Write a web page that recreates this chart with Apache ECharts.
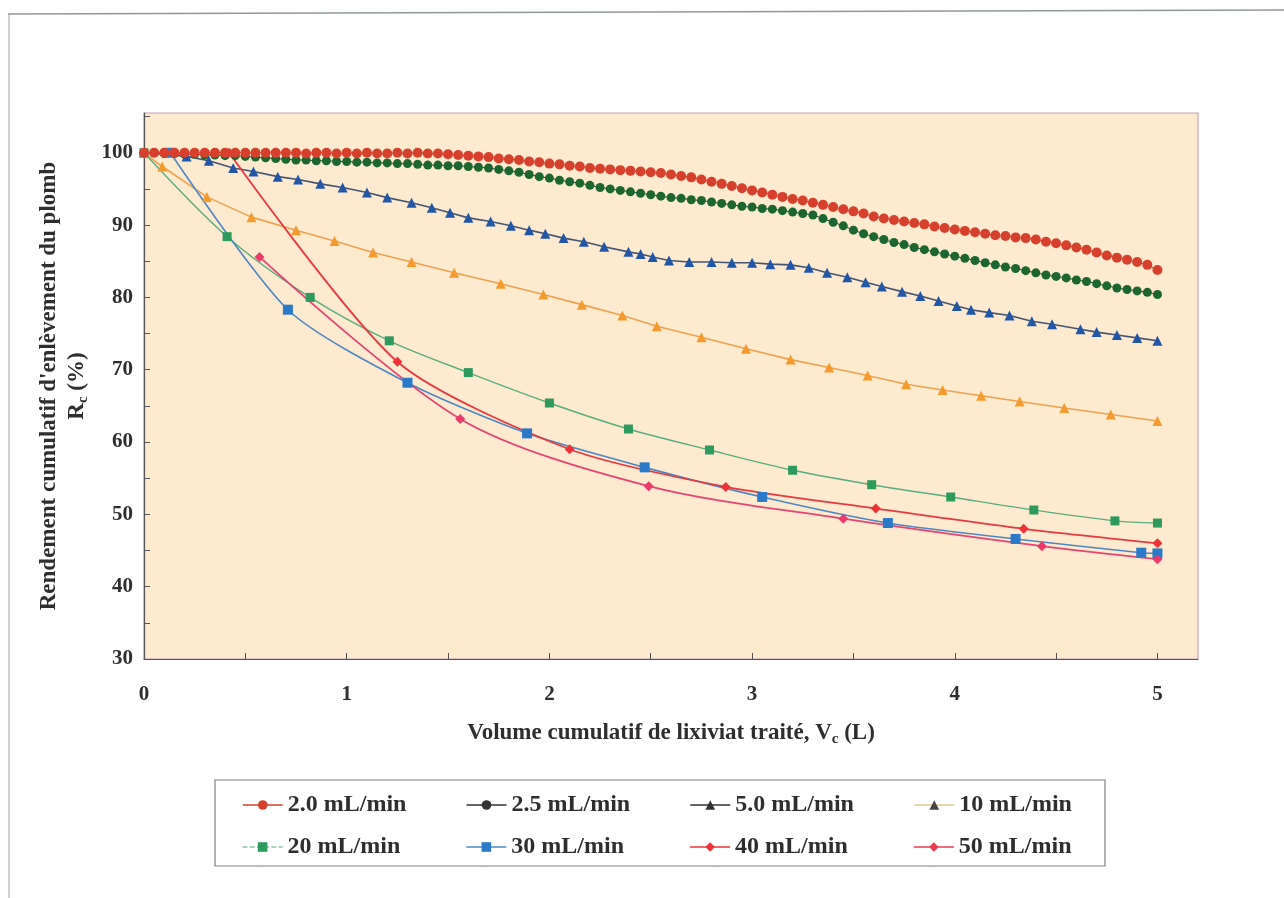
<!DOCTYPE html>
<html>
<head>
<meta charset="utf-8">
<script src="https://cdn.jsdelivr.net/npm/echarts@6/dist/echarts.min.js"></script>
<style>
  html, body { margin: 0; padding: 0; background: #ffffff; }
  #chart { width: 1284px; height: 898px; }
</style>
</head>
<body>
<div id="chart"></div>
<script>
// Cumulative lead removal yield versus cumulative treated leachate volume

// Volume grid (L) for the two densely sampled runs (2.0 and 2.5 mL/min)
const volDense = [
  0, 0.05, 0.1, 0.15, 0.2, 0.25, 0.3, 0.35, 0.4, 0.45,
  0.5, 0.55, 0.6, 0.65, 0.7, 0.75, 0.8, 0.85, 0.9, 0.95,
  1.0, 1.05, 1.1, 1.15, 1.2, 1.25, 1.3, 1.35, 1.4, 1.45,
  1.5, 1.55, 1.6, 1.65, 1.7, 1.75, 1.8, 1.85, 1.9, 1.95,
  2.0, 2.05, 2.1, 2.15, 2.2, 2.25, 2.3, 2.35, 2.4, 2.45,
  2.5, 2.55, 2.6, 2.65, 2.7, 2.75, 2.8, 2.85, 2.9, 2.95,
  3.0, 3.05, 3.1, 3.15, 3.2, 3.25, 3.3, 3.35, 3.4, 3.45,
  3.5, 3.55, 3.6, 3.65, 3.7, 3.75, 3.8, 3.85, 3.9, 3.95,
  4.0, 4.05, 4.1, 4.15, 4.2, 4.25, 4.3, 4.35, 4.4, 4.45,
  4.5, 4.55, 4.6, 4.65, 4.7, 4.75, 4.8, 4.85, 4.9, 4.95,
  5.0
];

// 2.0 mL/min
const rc_2_0 = [
  100, 100, 100, 100, 100, 100, 100, 100, 100, 100,
  100, 100, 100, 100, 100, 100, 99.9, 100, 100, 99.9,
  100, 99.9, 100, 99.9, 99.9, 100, 99.9, 100, 99.9, 99.9,
  99.8, 99.7, 99.6, 99.5, 99.4, 99.2, 99.1, 99.0, 98.8, 98.7,
  98.5, 98.4, 98.2, 98.1, 97.9, 97.8, 97.7, 97.6, 97.5, 97.4,
  97.3, 97.2, 97.0, 96.8, 96.6, 96.3, 96.0, 95.7, 95.4, 95.1,
  94.8, 94.5, 94.2, 93.9, 93.6, 93.4, 93.1, 92.8, 92.5, 92.2,
  91.9, 91.6, 91.2, 90.9, 90.7, 90.5, 90.3, 90.1, 89.8, 89.6,
  89.4, 89.2, 89.0, 88.8, 88.6, 88.5, 88.3, 88.2, 88.0, 87.7,
  87.5, 87.2, 86.9, 86.6, 86.2, 85.8, 85.5, 85.2, 84.9, 84.5,
  83.8
];

// 2.5 mL/min
const rc_2_5 = [
  100, 100, 99.9, 99.9, 99.8, 99.8, 99.7, 99.7, 99.6, 99.6,
  99.5, 99.4, 99.3, 99.2, 99.1, 99.0, 99.0, 98.9, 98.9, 98.8,
  98.8, 98.7, 98.7, 98.6, 98.6, 98.5, 98.5, 98.4, 98.3, 98.3,
  98.2, 98.2, 98.1, 98.0, 97.9, 97.7, 97.5, 97.3, 97.0, 96.7,
  96.5, 96.2, 96.0, 95.8, 95.5, 95.2, 95.0, 94.8, 94.6, 94.4,
  94.2, 94.0, 93.8, 93.7, 93.5, 93.4, 93.2, 93.0, 92.8, 92.6,
  92.5, 92.3, 92.2, 92.0, 91.8, 91.6, 91.4, 90.9, 90.4, 89.9,
  89.3, 88.8, 88.4, 88.0, 87.6, 87.3, 86.9, 86.6, 86.3, 86.0,
  85.7, 85.4, 85.1, 84.8, 84.5, 84.2, 84.0, 83.7, 83.4, 83.1,
  82.9, 82.7, 82.4, 82.2, 81.9, 81.6, 81.3, 81.1, 80.9, 80.7,
  80.4
];

// 5.0 mL/min
const vol_5_0 = [0, 0.21, 0.32, 0.44, 0.54, 0.66, 0.76, 0.87, 0.98, 1.10,
  1.20, 1.32, 1.42, 1.51, 1.60, 1.71, 1.81, 1.90, 1.98, 2.07,
  2.17, 2.27, 2.39, 2.45, 2.51, 2.59, 2.69, 2.80, 2.90, 3.00,
  3.09, 3.19, 3.28, 3.37, 3.47, 3.56, 3.64, 3.74, 3.83, 3.92,
  4.01, 4.08, 4.17, 4.27, 4.38, 4.48, 4.62, 4.70, 4.80, 4.90, 5.00];
const rc_5_0 = [100, 99.5, 98.9, 97.9, 97.4, 96.7, 96.3, 95.7, 95.2, 94.5,
  93.8, 93.1, 92.4, 91.7, 91.0, 90.5, 89.9, 89.3, 88.8, 88.2,
  87.7, 87.0, 86.3, 86.0, 85.6, 85.1, 84.9, 84.9, 84.8, 84.8,
  84.6, 84.5, 84.1, 83.4, 82.8, 82.1, 81.5, 80.8, 80.2, 79.5,
  78.8, 78.3, 77.9, 77.5, 76.7, 76.3, 75.6, 75.2, 74.8, 74.4, 74.0];

// 10 mL/min
const vol_10 = [0, 0.09, 0.31, 0.53, 0.75, 0.94, 1.13, 1.32, 1.53, 1.76,
  1.97, 2.16, 2.36, 2.53, 2.75, 2.97, 3.19, 3.38, 3.57, 3.76,
  3.94, 4.13, 4.32, 4.54, 4.77, 5.0];
const rc_10 = [100, 98.1, 93.9, 91.1, 89.3, 87.8, 86.2, 84.9, 83.4, 81.9,
  80.4, 79.0, 77.5, 76.0, 74.5, 72.9, 71.4, 70.3, 69.2, 68.0,
  67.2, 66.4, 65.6, 64.7, 63.8, 62.9];

// 20 mL/min
const vol_20 = [0, 0.41, 0.82, 1.21, 1.60, 2.00, 2.39, 2.79, 3.20, 3.59, 3.98, 4.39, 4.79, 5.00];
const rc_20 = [100, 88.4, 80.0, 74.0, 69.6, 65.4, 61.8, 58.9, 56.1, 54.1, 52.4, 50.6, 49.1, 48.8];

// 30 mL/min
const vol_30 = [0.13, 0.71, 1.30, 1.89, 2.47, 3.05, 3.67, 4.30, 4.92, 5.0];
const rc_30 = [100, 78.3, 68.2, 61.2, 56.5, 52.4, 48.8, 46.6, 44.7, 44.6];

// 40 mL/min
const vol_40 = [0.42, 1.25, 2.10, 2.87, 3.61, 4.34, 5.0];
const rc_40 = [100, 71.1, 59.0, 53.8, 50.8, 48.0, 46.0];

// 50 mL/min
const vol_50 = [0.57, 1.56, 2.49, 3.45, 4.43, 5.0];
const rc_50 = [85.6, 63.2, 53.9, 49.4, 45.6, 43.8];

const seriesNames = ['2.0 mL/min', '2.5 mL/min', '5.0 mL/min', '10 mL/min',
                     '20 mL/min', '30 mL/min', '40 mL/min', '50 mL/min'];

const xTickLabels = ['0', '1', '2', '3', '4', '5'];
const yTickLabels = ['30', '40', '50', '60', '70', '80', '90', '100'];

const pairs = (xs, ys) => xs.map((x, i) => [x, ys[i]]);

const FONT = '"Liberation Serif", "Times New Roman", serif';
const TXT = '#2e2e2e';

const chart = echarts.init(document.getElementById('chart'), null, { renderer: 'canvas' });

function lineSeries(name, data, o) {
  return Object.assign({
    name: name,
    type: 'line',
    data: data,
    showAllSymbol: true,
    animation: false,
    emphasis: { disabled: true }
  }, o);
}

const legendText = {
  fontFamily: FONT, fontWeight: 'bold', fontSize: 24, color: TXT,
  width: 178, lineHeight: 28
};

const titleRich = (lh) => ({
  b: { fontFamily: FONT, fontWeight: 'bold', fontSize: 23, color: TXT, lineHeight: lh, verticalAlign: 'middle' },
  s: { fontFamily: FONT, fontWeight: 'bold', fontSize: 15, color: TXT, lineHeight: lh, verticalAlign: 'bottom' }
});

const option = {
  backgroundColor: '#ffffff',
  animation: false,
  grid: {
    left: 144, top: 113, right: 86, bottom: 239,
    show: true,
    backgroundColor: '#FDEACF',
    borderColor: '#C7A2B6',
    borderWidth: 1.2
  },
  xAxis: {
    type: 'value',
    min: 0, max: 5.2, interval: 0.5,
    axisLine: { show: true, onZero: false, lineStyle: { color: '#555', width: 1.2 } },
    axisTick: { show: true, inside: true, length: 6, lineStyle: { color: '#555' } },
    splitLine: { show: false },
    axisLabel: {
      margin: 25,
      fontFamily: FONT, fontWeight: 'bold', fontSize: 21, color: TXT,
      showMaxLabel: false,
      formatter: v => {
        const s = String(Math.round(v * 10) / 10);
        return xTickLabels.indexOf(s) >= 0 ? s : '';
      }
    },
    name: '{b|Volume cumulatif de lixiviat traité, V}{s|c}{b| (L)}',
    nameLocation: 'middle',
    nameGap: 60,
    nameTextStyle: {
      fontFamily: FONT, fontWeight: 'bold', fontSize: 23, color: TXT, lineHeight: 28,
      rich: titleRich(28)
    }
  },
  yAxis: {
    type: 'value',
    min: 30, max: 105.5, interval: 5,
    axisLine: { show: true, onZero: false, lineStyle: { color: '#555', width: 1.2 } },
    axisTick: { show: true, inside: true, length: 6, lineStyle: { color: '#555' } },
    splitLine: { show: false },
    axisLabel: {
      margin: 11,
      fontFamily: FONT, fontWeight: 'bold', fontSize: 21, color: TXT,
      showMaxLabel: false,
      formatter: v => {
        const s = String(Math.round(v * 10) / 10);
        return yTickLabels.indexOf(s) >= 0 ? s : '';
      }
    },
    name: "{b|Rendement cumulatif d'enlèvement du plomb}\n{b|R}{s|c}{b| (%)}",
    nameLocation: 'middle',
    nameRotate: 90,
    nameGap: 48,
    nameTextStyle: {
      fontFamily: FONT, fontWeight: 'bold', fontSize: 23, color: TXT, lineHeight: 28,
      rich: titleRich(28)
    }
  },
  legend: [
    {
      left: 242, top: 791, orient: 'horizontal', padding: 0,
      itemWidth: 40, itemHeight: 12, itemGap: 0,
      textStyle: legendText,
      selectedMode: false,
      data: [
        { name: seriesNames[0], itemStyle: { color: '#D8402E' }, lineStyle: { color: '#D8402E', width: 1.5 } },
        { name: seriesNames[1], itemStyle: { color: '#333333' }, lineStyle: { color: '#333333', width: 1.5 } },
        { name: seriesNames[2], itemStyle: { color: '#333333' }, lineStyle: { color: '#333333', width: 1.5 } },
        { name: seriesNames[3], itemStyle: { color: '#444444' }, lineStyle: { color: '#E6D8A8', width: 2 } }
      ]
    },
    {
      left: 242, top: 833, orient: 'horizontal', padding: 0,
      itemWidth: 40, itemHeight: 12, itemGap: 0,
      textStyle: legendText,
      selectedMode: false,
      data: [
        { name: seriesNames[4], itemStyle: { color: '#2E9A5C' }, lineStyle: { color: '#4FA873', width: 1.2, type: 'dashed' } },
        { name: seriesNames[5], itemStyle: { color: '#2B79C9' }, lineStyle: { color: '#4C8BCB', width: 1.5 } },
        { name: seriesNames[6], itemStyle: { color: '#EE3338' }, lineStyle: { color: '#EE3338', width: 1.5 } },
        { name: seriesNames[7], itemStyle: { color: '#EE3A4E' }, lineStyle: { color: '#EE3A4E', width: 1.5 } }
      ]
    }
  ],
  graphic: [
    // page frame
    { type: 'line', shape: { x1: 8, y1: 14, x2: 1284, y2: 10 }, style: { stroke: '#8f9a98', lineWidth: 1.3 }, silent: true },
    { type: 'line', shape: { x1: 9, y1: 14, x2: 9, y2: 898 }, style: { stroke: '#a0a0a0', lineWidth: 1 }, silent: true },
    // legend box
    { type: 'rect', z: -1, shape: { x: 215, y: 780, width: 890, height: 86 },
      style: { fill: '#ffffff', stroke: '#808080', lineWidth: 1.2 }, silent: true }
  ],
  series: [
    lineSeries(seriesNames[1], pairs(volDense, rc_2_5), {
      symbol: 'circle', symbolSize: 9,
      itemStyle: { color: '#1E6630' },
      lineStyle: { color: '#2E4A35', width: 1 }, z: 3
    }),
    lineSeries(seriesNames[0], pairs(volDense, rc_2_0), {
      symbol: 'circle', symbolSize: 10,
      itemStyle: { color: '#D8402E' },
      lineStyle: { color: '#D8402E', width: 1 }, z: 4
    }),
    lineSeries(seriesNames[2], pairs(vol_5_0, rc_5_0), {
      symbol: 'triangle', symbolSize: 10,
      itemStyle: { color: '#2356A6' },
      lineStyle: { color: '#46556F', width: 1.6 }, z: 3
    }),
    lineSeries(seriesNames[3], pairs(vol_10, rc_10), {
      symbol: 'triangle', symbolSize: 10,
      itemStyle: { color: '#F59A2C' },
      lineStyle: { color: '#F0A04E', width: 1.6 }, z: 3
    }),
    lineSeries(seriesNames[4], pairs(vol_20, rc_20), {
      symbol: 'rect', symbolSize: 9, smooth: 0.3,
      itemStyle: { color: '#2E9A5C' },
      lineStyle: { color: '#5AAE7B', width: 1.4 }, z: 3
    }),
    lineSeries(seriesNames[5], pairs(vol_30, rc_30), {
      symbol: 'rect', symbolSize: 10, smooth: 0.25,
      itemStyle: { color: '#2B79C9' },
      lineStyle: { color: '#4F87C2', width: 1.6 }, z: 3
    }),
    lineSeries(seriesNames[6], pairs(vol_40, rc_40), {
      symbol: 'diamond', symbolSize: 10, smooth: 0.25,
      itemStyle: { color: '#EE3338' },
      lineStyle: { color: '#E8393F', width: 1.8 }, z: 3
    }),
    lineSeries(seriesNames[7], pairs(vol_50, rc_50), {
      symbol: 'diamond', symbolSize: 10, smooth: 0.3,
      itemStyle: { color: '#EE3A6A' },
      lineStyle: { color: '#E84470', width: 1.8 }, z: 3
    })
  ]
};

chart.setOption(option);
</script>
</body>
</html>
